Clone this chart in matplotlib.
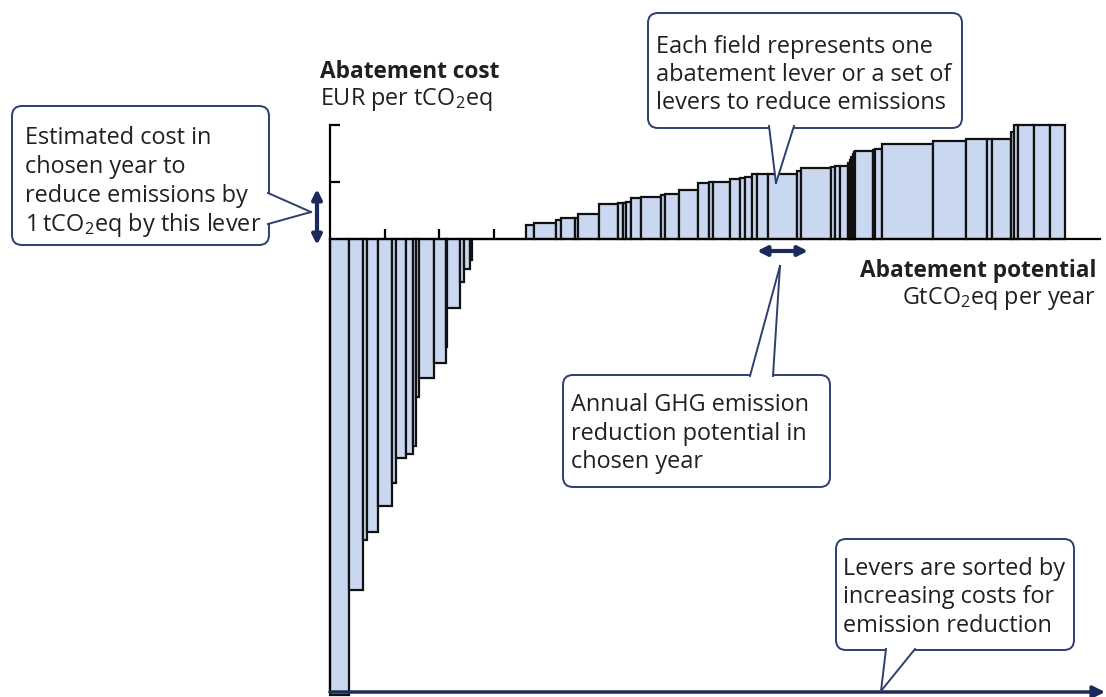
import numpy as np
import matplotlib.pyplot as plt
from matplotlib.patches import FancyBboxPatch, Polygon, FancyArrowPatch
from matplotlib.lines import Line2D
from matplotlib.transforms import IdentityTransform

plt.rcParams['font.family'] = ['Open Sans', 'DejaVu Sans']
plt.rcParams['mathtext.fontset'] = 'custom'
plt.rcParams['mathtext.rm'] = 'Open Sans'

# lever widths (abatement potential) and costs, sorted by cost
widths = [0.35, 0.256, 0.073, 0.192, 0.26, 0.07, 0.183, 0.128, 0.064, 0.06,
          0.27, 0.22, 0.02, 0.244, 0.073, 0.092, 0.05,
          0.99,
          0.134, 0.416, 0.092, 0.251, 0.06, 0.372, 0.348, 0.099, 0.06, 0.079,
          0.196, 0.353, 0.081, 0.256, 0.348, 0.207, 0.064, 0.308, 0.183, 0.104,
          0.128, 0.092, 0.196, 0.537, 0.064, 0.546, 0.086, 0.079, 0.159,
          0.026, 0.026, 0.026, 0.026, 0.026, 0.324, 0.029, 0.132, 0.938, 0.61,
          0.379, 0.092, 0.341, 0.059, 0.077, 0.293, 0.286, 0.278]
costs = [-8.0, -6.16, -5.28, -5.14, -4.68, -4.28, -3.84, -3.77, -3.64, -2.77,
         -2.44, -2.18, -1.89, -1.21, -0.75, -0.53, -0.37,
         0.0,
         0.254, 0.272, 0.325, 0.368, 0.377, 0.439, 0.614, 0.623, 0.632, 0.644,
         0.728, 0.732, 0.767, 0.781, 0.86, 0.991, 0.995, 0.995, 1.061, 1.065,
         1.079, 1.132, 1.137, 1.14, 1.198, 1.251, 1.258, 1.275, 1.289,
         1.333, 1.386, 1.439, 1.491, 1.526, 1.544, 1.561, 1.574, 1.675, 1.716,
         1.749, 1.754, 1.763, 1.877, 2.0, 2.0, 2.0, 2.0]
xticks = list(range(1, 14))
yticks = [-7, -6, -5, -4, -3, -2, -1, 1, 2]

W, H = 1106, 697
X0, Y0, XU, YU = 330, 239, 54.6, 57.0   # pixel of origin and pixels per unit

navy = '#1b2a5a'
edge = '#2e3f6f'
tcol = '#231f20'
fill = '#cad7f0'
fs = 16.9

fig = plt.figure(figsize=(W / 100, H / 100), dpi=100)
ax = fig.add_axes([0, 0, 1, 1])
ax.set_xlim(-X0 / XU, (W - X0) / XU)
ax.set_ylim((Y0 - H) / YU, Y0 / YU)

lefts = np.concatenate([[0], np.cumsum(widths)[:-1]])
ax.bar(lefts, costs, width=widths, align='edge', color=fill,
       edgecolor='#111111', linewidth=1.6, zorder=2)

for s in ['top', 'right']:
    ax.spines[s].set_visible(False)
ax.spines['left'].set_position(('data', 0))
ax.spines['bottom'].set_position(('data', 0))
ax.spines['left'].set_bounds((Y0 - 692) / YU, 2.0)
ax.spines['bottom'].set_bounds(0, (1100 - X0) / XU)
ax.spines['left'].set_linewidth(1.6)
ax.spines['bottom'].set_linewidth(1.6)
ax.set_xticks(xticks)
ax.set_yticks(yticks)
ax.tick_params(direction='in', length=7, width=1.6, labelbottom=False, labelleft=False)
for t in ax.xaxis.get_major_ticks():
    t.tick1line.set_color(navy)
for t, v in zip(ax.yaxis.get_major_ticks(), yticks):
    t.tick1line.set_color(navy if v < 0 else '#111111')

# bottom arrow axis
ax.annotate('', xy=((1105 - X0) / XU, (Y0 - 692) / YU), xytext=(0, (Y0 - 692) / YU),
            arrowprops=dict(arrowstyle='-|>', color=navy, lw=2.5, mutation_scale=18,
                            shrinkA=0, shrinkB=0), zorder=5)

idt = IdentityTransform()


def P(x, y):
    return (x, H - y)


def text(x, y, s, **kw):
    fig.text(*P(x, y), s, transform=idt, color=tcol, va='baseline', **kw)


def callout(x0, y0, x1, y1, base1, tip, base2, lines, tx, ty, dy=28.7):
    box = FancyBboxPatch(P(x0, y1), x1 - x0, y1 - y0,
                         boxstyle='round,pad=0,rounding_size=10',
                         transform=idt, facecolor='white', edgecolor=edge,
                         linewidth=1.4, zorder=10)
    fig.add_artist(box)
    fig.add_artist(Polygon([P(*base1), P(*tip), P(*base2)], closed=True,
                           transform=idt, facecolor='white', edgecolor='none', zorder=11))
    for b in (base1, base2):
        fig.add_artist(Line2D([P(*b)[0], P(*tip)[0]], [P(*b)[1], P(*tip)[1]],
                              transform=idt, color=edge, lw=1.4, zorder=12))
    for i, s in enumerate(lines):
        fig.text(*P(tx, ty + i * dy), s, transform=idt, color=tcol,
                 va='baseline', fontsize=fs, zorder=13)


sub2 = r'$_{\mathregular{2}}$'

callout(12, 106, 269, 245, (268, 193), (311, 212), (268, 224),
        ['Estimated cost in', 'chosen year to', 'reduce emissions by',
         '1\u2009tCO' + sub2 + 'eq by this lever'], 25, 144, 29)
callout(648, 13, 962, 128, (769, 126), (776, 183), (794, 126),
        ['Each field represents one', 'abatement lever or a set of',
         'levers to reduce emissions'], 656, 53, 28)
callout(563, 375, 830, 487, (750, 376), (780, 266), (773, 376),
        ['Annual GHG emission', 'reduction potential in', 'chosen year'], 571, 411, 28.7)
callout(836, 539, 1074, 650, (886, 649), (881, 691), (915, 649),
        ['Levers are sorted by', 'increasing costs for', 'emission reduction'], 843, 575, 28.3)

# double arrows
fig.add_artist(FancyArrowPatch(P(317, 189), P(317, 245), arrowstyle='<|-|>',
                               mutation_scale=14, color=navy, lw=3, transform=idt,
                               shrinkA=0, shrinkB=0, zorder=9))
fig.add_artist(FancyArrowPatch(P(757, 251), P(808, 251), arrowstyle='<|-|>',
                               mutation_scale=14, color=navy, lw=3, transform=idt,
                               shrinkA=0, shrinkB=0, zorder=9))

# axis titles
text(320, 78, 'Abatement cost', fontsize=16.3, fontweight='bold', ha='left')
text(320, 105, 'EUR per tCO' + sub2 + 'eq', fontsize=16.8, ha='left')
text(1096, 277, 'Abatement potential', fontsize=16.3, fontweight='bold', ha='right')
text(1096, 304, 'GtCO' + sub2 + 'eq per year', fontsize=16.8, ha='right')

fig.savefig('out.png', dpi=100)
